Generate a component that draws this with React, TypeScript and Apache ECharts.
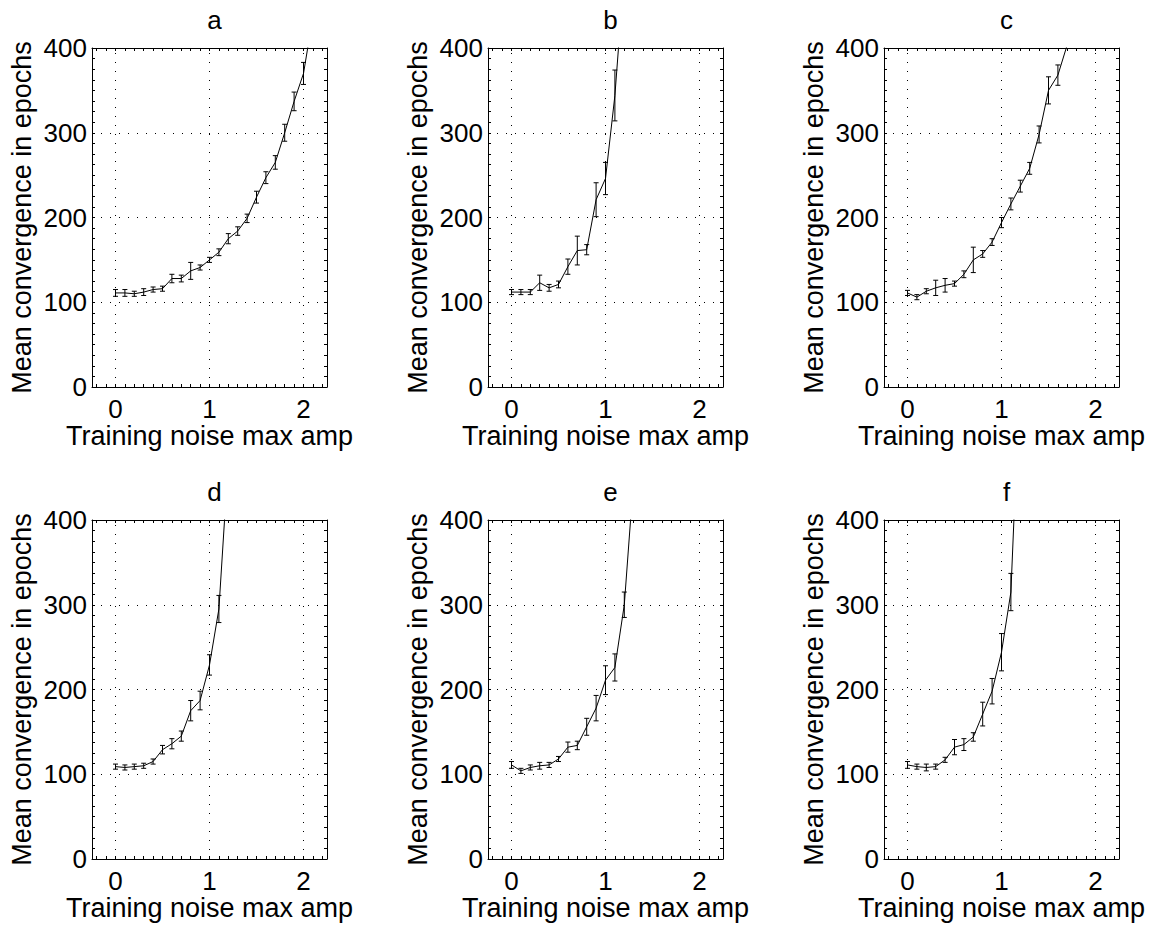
import React, { useEffect, useRef } from "react";
import * as echarts from "echarts";

const X = [0, 0.1, 0.2, 0.3, 0.4, 0.5, 0.6, 0.7, 0.8, 0.9, 1.0, 1.1, 1.2, 1.3, 1.4, 1.5, 1.6, 1.7, 1.8, 1.9, 2.0, 2.1];

const panelTitles = ["a", "b", "c", "d", "e", "f"];

const meanA = [111, 111, 110, 112, 115, 116, 128, 128, 137, 141, 150, 159, 175, 184, 199, 224, 247, 265, 300, 337, 370, 437];
const errA = [4, 4, 3, 4, 3, 3, 5, 4, 10, 3, 3, 4, 6, 5, 5, 7, 7, 8, 10, 11, 13, 0];

const meanB = [112, 112, 112, 123, 117, 121, 142, 161, 162, 221, 246, 344, 491];
const errB = [3, 3, 3, 9, 4, 4, 9, 17, 6, 20, 19, 30, 0];

const meanC = [111, 106, 113, 117, 120, 122, 133, 150, 157, 171, 194, 216, 237, 258, 298, 350, 368, 404, 450];
const errC = [3, 3, 3, 9, 8, 3, 4, 15, 4, 4, 6, 7, 7, 7, 10, 16, 12, 0, 0];

const meanD = [109, 108, 109, 110, 115, 129, 136, 145, 175, 187, 229, 295, 470];
const errD = [3, 3, 3, 3, 3, 5, 6, 6, 12, 11, 12, 16, 0];

const meanE = [111, 104, 108, 110, 111, 118, 132, 134, 156, 178, 211, 226, 300, 450];
const errE = [4, 3, 3, 4, 3, 3, 6, 5, 10, 15, 17, 16, 15, 0];

const meanF = [111, 109, 108, 109, 117, 132, 135, 144, 171, 198, 244, 315, 580];
const errF = [4, 3, 4, 3, 3, 9, 7, 5, 14, 15, 22, 22, 0];

const means = [meanA, meanB, meanC, meanD, meanE, meanF];
const errs = [errA, errB, errC, errD, errE, errF];

const xTickLabels = [0, 1, 2];
const yTickLabels = [0, 100, 200, 300, 400];
const xGridLines = [0, 1, 2];
const yGridLines = [100, 200, 300];
const xMinorTicks = [-0.2, -0.1, 0, 0.1, 0.2, 0.3, 0.4, 0.5, 0.6, 0.7, 0.8, 0.9, 1, 1.1, 1.2, 1.3, 1.4, 1.5, 1.6, 1.7, 1.8, 1.9, 2, 2.1, 2.2];
const yMinorTicks = [0, 12.5, 25, 37.5, 50, 62.5, 75, 87.5, 100, 112.5, 125, 137.5, 150, 162.5, 175, 187.5, 200, 212.5, 225, 237.5, 250, 262.5, 275, 287.5, 300, 312.5, 325, 337.5, 350, 362.5, 375, 387.5, 400];

const X_MIN = -0.25;
const X_MAX = 2.25;
const Y_MIN = 0;
const Y_MAX = 400;

const FONT = "'Liberation Sans', Arial, Helvetica, sans-serif";

export default function App() {
  const ref = useRef<HTMLDivElement>(null);

  useEffect(() => {
    if (!ref.current) return;
    const chart = echarts.init(ref.current, null, { renderer: "svg" });

    const colLefts = [92, 488, 884];
    const rowTops = [48, 520];
    const gw = 235;
    const gh = 339;

    const grids: any[] = [];
    const xAxes: any[] = [];
    const yAxes: any[] = [];
    const series: any[] = [];
    const titles: any[] = [];

    for (let i = 0; i < 6; i++) {
      const col = i % 3;
      const row = Math.floor(i / 3);
      const left = colLefts[col];
      const top = rowTops[row];
      grids.push({ left, top, width: gw, height: gh, containLabel: false, show: false });

      titles.push({
        text: panelTitles[i],
        left: left + gw / 2,
        top: top - 46,
        textAlign: "center",
        textStyle: { fontFamily: FONT, fontSize: 26, fontWeight: "normal", color: "#000" },
      });

      const axisLine = { show: true, onZero: false, lineStyle: { color: "#000", width: 1 } };

      xAxes.push({
        type: "value",
        gridIndex: i,
        min: X_MIN,
        max: X_MAX,
        position: "bottom",
        axisLine,
        axisTick: { show: true, inside: true, length: 3, customValues: xMinorTicks, lineStyle: { color: "#000" } },
        axisLabel: {
          show: true,
          customValues: xTickLabels,
          margin: 9,
          fontFamily: FONT,
          fontSize: 26,
          color: "#000",
          formatter: (v: number) => String(v),
        },
        splitLine: { show: false },
        name: "Training noise max amp",
        nameLocation: "middle",
        nameGap: 35,
        nameTextStyle: { fontFamily: FONT, fontSize: 27, color: "#000" },
      });
      xAxes.push({
        type: "value",
        gridIndex: i,
        min: X_MIN,
        max: X_MAX,
        position: "top",
        axisLine,
        axisTick: { show: true, inside: true, length: 3, customValues: xMinorTicks, lineStyle: { color: "#000" } },
        axisLabel: { show: false },
        splitLine: { show: false },
      });
      yAxes.push({
        type: "value",
        gridIndex: i,
        min: Y_MIN,
        max: Y_MAX,
        position: "left",
        axisLine,
        axisTick: { show: true, inside: true, length: 3, customValues: yMinorTicks, lineStyle: { color: "#000" } },
        axisLabel: {
          show: true,
          customValues: yTickLabels,
          margin: 5,
          fontFamily: FONT,
          fontSize: 26,
          color: "#000",
        },
        splitLine: { show: false },
        name: "Mean convergence in epochs",
        nameLocation: "middle",
        nameGap: 57,
        nameTextStyle: { fontFamily: FONT, fontSize: 27, color: "#000" },
      });
      yAxes.push({
        type: "value",
        gridIndex: i,
        min: Y_MIN,
        max: Y_MAX,
        position: "right",
        axisLine,
        axisTick: { show: true, inside: true, length: 3, customValues: yMinorTicks, lineStyle: { color: "#000" } },
        axisLabel: { show: false },
        splitLine: { show: false },
      });

      const m = means[i];
      const e = errs[i];
      const lineData = m.map((v, k) => [X[k], v]);
      const errData = m
        .map((v, k) => [X[k], v, e[k]])
        .filter((d) => d[2] > 0 && d[1] + d[2] <= Y_MAX);

      series.push({
        type: "line",
        xAxisIndex: i * 2,
        yAxisIndex: i * 2,
        data: lineData,
        symbol: "none",
        clip: true,
        lineStyle: { color: "#000", width: 1 },
        z: 3,
        markLine: {
          silent: true,
          symbol: "none",
          label: { show: false },
          lineStyle: { type: [1, 8], color: "#000", width: 1 },
          data: [
            ...xGridLines.map((v) => ({ xAxis: v })),
            ...yGridLines.map((v) => ({ yAxis: v })),
          ],
        },
      });

      series.push({
        type: "custom",
        xAxisIndex: i * 2,
        yAxisIndex: i * 2,
        data: errData,
        encode: { x: 0, y: 1 },
        z: 4,
        renderItem: (params: any, api: any) => {
          const x = api.value(0);
          const y = api.value(1);
          const er = api.value(2);
          const hi = api.coord([x, y + er]);
          const lo = api.coord([x, y - er]);
          const w = 2.5;
          const st = { stroke: "#000", lineWidth: 1 };
          return {
            type: "group",
            children: [
              { type: "line", shape: { x1: hi[0], y1: hi[1], x2: lo[0], y2: lo[1] }, style: st },
              { type: "line", shape: { x1: hi[0] - w, y1: hi[1], x2: hi[0] + w, y2: hi[1] }, style: st },
              { type: "line", shape: { x1: lo[0] - w, y1: lo[1], x2: lo[0] + w, y2: lo[1] }, style: st },
            ],
          };
        },
      });
    }

    chart.setOption({
      animation: false,
      backgroundColor: "#fff",
      title: titles,
      grid: grids,
      xAxis: xAxes,
      yAxis: yAxes,
      series,
    });

    return () => {
      chart.dispose();
    };
  }, []);

  return (
    <div
      ref={ref}
      style={{ position: "absolute", left: 0, top: 0, width: 1157, height: 929, background: "#fff" }}
    />
  );
}
